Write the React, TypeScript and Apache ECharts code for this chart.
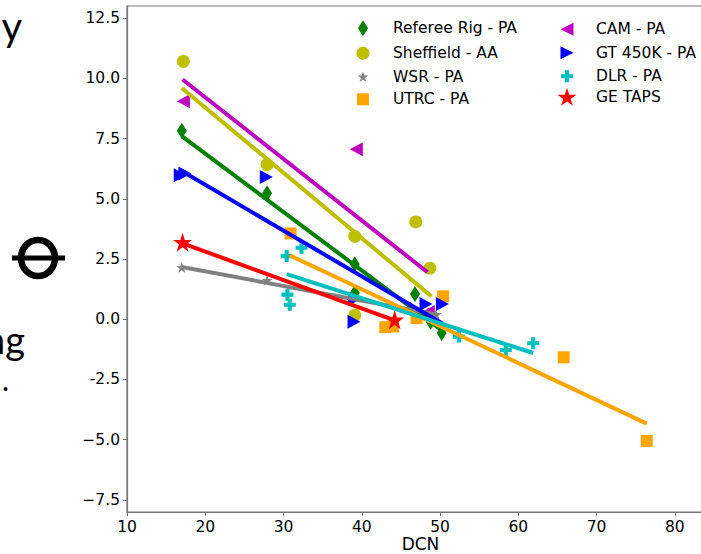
import React, { useEffect, useRef } from "react";
import * as echarts from "echarts";

// ---------- data ----------
const xTicks = [10, 20, 30, 40, 50, 60, 70, 80];
const yTicks = [-7.5, -5, -2.5, 0, 2.5, 5, 7.5, 10, 12.5];
const yTickLabels = ["\u22127.5", "\u22125.0", "-2.5", "0.0", "2.5", "5.0", "7.5", "10.0", "12.5"];

const refereeRig = [[17.0, 7.82], [27.9, 5.23], [39.1, 2.28], [39.1, 1.1], [46.8, 1.05], [48.5, 0.15], [48.8, -0.1], [50.2, -0.57]];
const refereeRigFit = [[17.0, 7.6], [50.2, -0.45]];

const sheffield = [[17.2, 10.7], [27.9, 6.42], [39.1, 3.44], [39.1, 0.17], [46.9, 4.04], [48.7, 2.12]];
const sheffieldFit = [[17.0, 9.6], [48.9, 0.95]];

const wsr = [[17.0, 2.15], [27.9, 1.62], [49.5, 0.2]];
const wsrFit = [[17.0, 2.17], [49.5, 0.2]];

const utrc = [[30.9, 3.56], [43.0, -0.33], [44.0, -0.3], [47.0, 0.05], [50.4, 0.95], [65.8, -1.58], [76.4, -5.05]];
const utrcFit = [[30.8, 2.65], [76.4, -4.33]];

const cam = [[17.2, 9.05], [39.3, 7.05], [48.5, 0.3]];
const camFit = [[17.1, 9.95], [48.4, 1.95]];

const gt450k = [[16.8, 5.98], [17.4, 6.05], [27.8, 5.9], [39.1, 0.85], [39.0, -0.1], [48.2, 0.63], [50.3, 0.63]];
const gt450kFit = [[17.0, 6.15], [50.3, -0.18]];

const dlr = [[30.4, 2.62], [32.3, 2.97], [30.5, 1.02], [30.8, 0.6], [52.4, -0.72], [58.4, -1.28], [61.9, -1.0]];
const dlrFit = [[30.4, 1.87], [61.9, -1.4]];

const geTaps = [[17.1, 3.2], [44.2, -0.02]];
const geTapsFit = [[17.1, 3.15], [44.2, -0.05]];

// ---------- symbols ----------
const STAR = "path://M50,0 L61.2,34.5 L97.6,34.5 L68.2,55.9 L79.4,90.5 L50,69.1 L20.6,90.5 L31.8,55.9 L2.4,34.5 L38.8,34.5 Z";
const PLUS = "path://M33,0 H67 V33 H100 V67 H67 V100 H33 V67 H0 V33 H33 Z";
const TRI_LEFT = "path://M0,50 L100,0 L100,100 Z";
const TRI_RIGHT = "path://M0,0 L100,50 L0,100 Z";

const FONT = "DejaVu Sans";

type Entry = {
  name: string;
  data: number[][];
  fit: number[][];
  color: string;
  symbol: string;
  size: number | number[];
  legendSize: number[];
  col: number;
  row: number;
};

const entries: Entry[] = [
  { name: "Referee Rig - PA", data: refereeRig, fit: refereeRigFit, color: "#008000", symbol: "diamond", size: [10, 16], legendSize: [10, 16], col: 0, row: 0 },
  { name: "Sheffield - AA", data: sheffield, fit: sheffieldFit, color: "#bfbf00", symbol: "circle", size: 13, legendSize: [13, 13], col: 0, row: 1 },
  { name: "WSR - PA", data: wsr, fit: wsrFit, color: "#808080", symbol: STAR, size: 11, legendSize: [11, 11], col: 0, row: 2 },
  { name: "UTRC - PA", data: utrc, fit: utrcFit, color: "#ffa500", symbol: "rect", size: 12, legendSize: [12, 12], col: 0, row: 3 },
  { name: "CAM - PA", data: cam, fit: camFit, color: "#bf00bf", symbol: TRI_LEFT, size: [13, 14], legendSize: [13, 14], col: 1, row: 0 },
  { name: "GT 450K - PA", data: gt450k, fit: gt450kFit, color: "#0000ff", symbol: TRI_RIGHT, size: [13, 14], legendSize: [13, 14], col: 1, row: 1 },
  { name: "DLR - PA", data: dlr, fit: dlrFit, color: "#00bfbf", symbol: PLUS, size: 12, legendSize: [12, 12], col: 1, row: 2 },
  { name: "GE TAPS", data: geTaps, fit: geTapsFit, color: "#ff0000", symbol: STAR, size: 19, legendSize: [19, 19], col: 1, row: 3 },
];

const legendIconX = [363, 567];
const legendTextX = [393, 596];
const legendRowY = [28.3, 51.7, 74.3, 97.3];

export default function App() {
  const ref = useRef<HTMLDivElement>(null);

  useEffect(() => {
    if (!ref.current) return;
    const chart = echarts.init(ref.current, undefined, { renderer: "svg" });

    const series: any[] = [];
    entries.forEach((e) => {
      series.push({
        type: "scatter",
        name: e.name,
        data: e.data,
        symbol: e.symbol,
        symbolSize: e.size,
        itemStyle: { color: e.color, opacity: 1 },
        emphasis: { disabled: true },
      });
      series.push({
        type: "line",
        name: e.name + " fit",
        data: e.fit,
        showSymbol: false,
        symbol: "none",
        lineStyle: { color: e.color, width: 4 },
        itemStyle: { color: e.color },
        emphasis: { disabled: true },
        silent: true,
      });
    });

    const legends = entries.map((e) => {
      const [w, h] = e.legendSize;
      const cx = legendIconX[e.col];
      const cy = legendRowY[e.row];
      return {
        data: [e.name],
        orient: "vertical",
        left: cx - w / 2,
        top: cy - h / 2,
        itemWidth: w,
        itemHeight: h,
        padding: 0,
        selectedMode: false,
        textStyle: {
          fontFamily: FONT,
          fontSize: 15.5,
          color: "#000",
          padding: [0, 0, 0, legendTextX[e.col] - (cx + w / 2) - 5],
        },
      };
    });

    const option: any = {
      animation: false,
      backgroundColor: "#fff",
      grid: {
        left: 127,
        top: 6,
        width: 587,
        height: 506,
        show: true,
        borderColor: "#777",
        borderWidth: 1.2,
        backgroundColor: "transparent",
        containLabel: false,
        outerBoundsMode: "none",
      },
      xAxis: {
        type: "value",
        min: 10,
        max: 85,
        name: "DCN",
        nameLocation: "middle",
        nameGap: 23,
        nameMoveOverlap: false,
        nameTextStyle: { fontFamily: FONT, fontSize: 17, color: "#000", verticalAlign: "top" },
        axisLine: { show: true, onZero: false, lineStyle: { color: "#777", width: 1.2 } },
        axisTick: { show: true, length: 4, customValues: xTicks, lineStyle: { color: "#777" } },
        axisLabel: {
          customValues: xTicks,
          fontFamily: FONT,
          fontSize: 15.5,
          color: "#000",
          margin: 7,
          formatter: (v: number) => String(v),
        },
        splitLine: { show: false },
      },
      yAxis: {
        type: "value",
        min: -8,
        max: 13,
        axisLine: { show: true, onZero: false, lineStyle: { color: "#777", width: 1.2 } },
        axisTick: { show: true, length: 4, customValues: yTicks, lineStyle: { color: "#777" } },
        axisLabel: {
          customValues: yTicks,
          fontFamily: FONT,
          fontSize: 15.5,
          color: "#000",
          margin: 7,
          formatter: (v: number) => {
            const i = yTicks.findIndex((t) => Math.abs(t - v) < 1e-6);
            return i >= 0 ? yTickLabels[i] : "";
          },
        },
        splitLine: { show: false },
      },
      legend: legends,
      graphic: [
        { type: "text", x: 22, y: 6, style: { text: "y", font: "40px Lato", fill: "#000", align: "right", verticalAlign: "top" } },
        { type: "ellipse", shape: { cx: 38, cy: 258, rx: 17, ry: 18 }, style: { fill: "none", stroke: "#000", lineWidth: 6.5 } },
        { type: "line", shape: { x1: 12, y1: 258, x2: 65, y2: 258 }, style: { stroke: "#000", lineWidth: 5 } },
        { type: "text", x: 25, y: 358, style: { text: "ng", font: "38px Lato", fill: "#000", align: "right", verticalAlign: "bottom" } },
        { type: "text", x: 9, y: 394, style: { text: ".", font: "30px Lato", fill: "#000", align: "right", verticalAlign: "bottom" } },
        { type: "text", x: 352, y: -38, style: { text: "g", font: "bold 64px Lato", fill: "#000", align: "center", verticalAlign: "middle" } },
      ],
      series,
    };

    chart.setOption(option);
    return () => chart.dispose();
  }, []);

  return (
    <div style={{ position: "absolute", left: 0, top: 0, width: 701, height: 554, overflow: "hidden", background: "#fff" }}>
      <div ref={ref} style={{ width: 730, height: 554 }} />
    </div>
  );
}
